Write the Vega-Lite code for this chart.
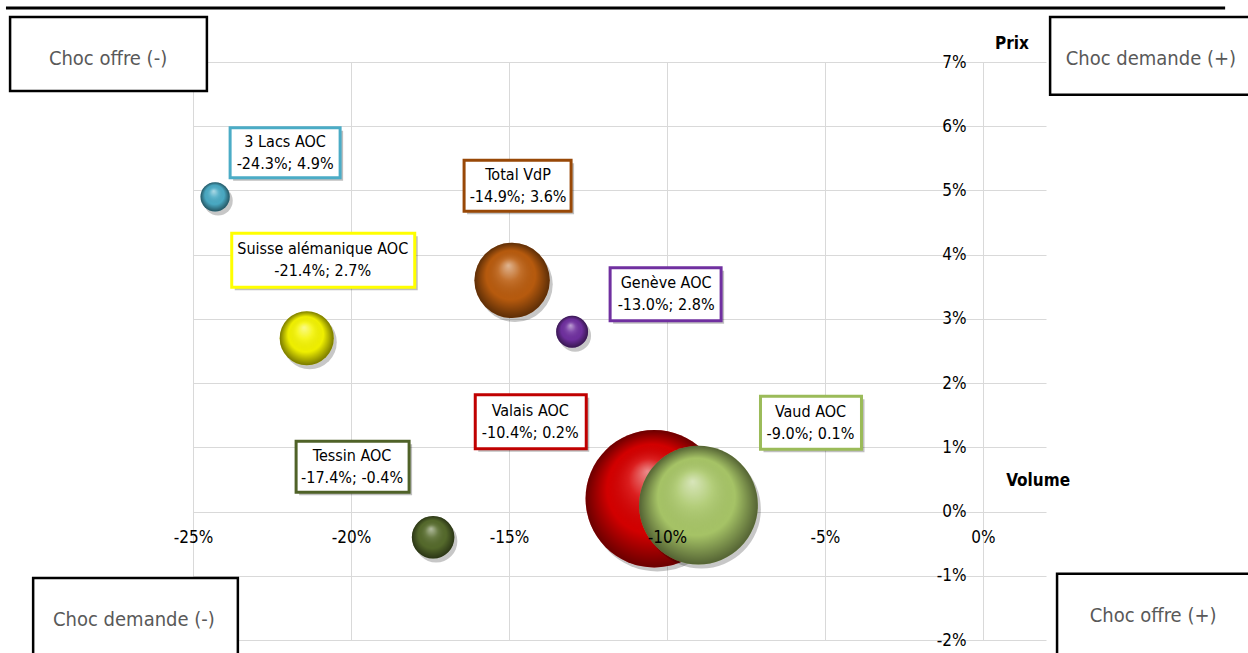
{
  "$schema": "https://vega.github.io/schema/vega-lite/v6.json",
  "width": 853,
  "height": 578,
  "autosize": {"type": "none"},
  "padding": {"left": 193, "top": 62, "right": 202, "bottom": 13},
  "background": "white",
  "config": {
    "view": {"stroke": null},
    "font": "DejaVu Sans Condensed, DejaVu Sans, sans-serif",
    "text": {"font": "DejaVu Sans Condensed, DejaVu Sans, sans-serif"}
  },
  "datasets": {
    "vins": [
      {"nom": "3 Lacs AOC", "vol": -24.3, "prix": 4.9, "poids": 272, "etiquette": "3 Lacs AOC\n-24.3%; 4.9%"},
      {"nom": "Total VdP", "vol": -14.9, "prix": 3.6, "poids": 1806, "etiquette": "Total VdP\n-14.9%; 3.6%"},
      {"nom": "Suisse alémanique AOC", "vol": -21.4, "prix": 2.7, "poids": 930, "etiquette": "Suisse alémanique AOC\n-21.4%; 2.7%"},
      {"nom": "Genève AOC", "vol": -13.0, "prix": 2.8, "poids": 324, "etiquette": "Genève AOC\n-13.0%; 2.8%"},
      {"nom": "Tessin AOC", "vol": -17.4, "prix": -0.4, "poids": 576, "etiquette": "Tessin AOC\n-17.4%; -0.4%"},
      {"nom": "Valais AOC", "vol": -10.4, "prix": 0.2, "poids": 6006, "etiquette": "Valais AOC\n-10.4%; 0.2%"},
      {"nom": "Vaud AOC", "vol": -9.0, "prix": 0.1, "poids": 4489, "etiquette": "Vaud AOC\n-9.0%; 0.1%"}
    ]
  },
  "resolve": {"axis": {"x": "independent"}},
  "layer": [
    {
      "data": {"name": "vins"},
      "encoding": {
        "x": {
          "field": "vol", "type": "quantitative",
          "scale": {"domain": [-25, 2], "nice": false, "zero": false},
          "axis": {
            "title": null, "values": [-25, -20, -15, -10, -5, 0],
            "orient": "bottom", "offset": -129,
            "ticks": false, "tickSize": 0, "domain": false, "labels": false,
            "grid": true, "gridColor": "#d9d9d9", "gridWidth": 1, "zindex": 0
          }
        },
        "y": {
          "field": "prix", "type": "quantitative",
          "scale": {"domain": [-2, 7], "nice": false, "zero": false},
          "axis": {
            "title": null, "values": [-2, -1, 0, 1, 2, 3, 4, 5, 6, 7],
            "labelExpr": "datum.value + '%'", "offset": -790,
            "ticks": false, "tickSize": 0, "domain": false,
            "grid": true, "gridColor": "#d9d9d9", "gridWidth": 1,
            "labelFontSize": 17, "labelColor": "#000", "labelPadding": 17,
            "labelFlush": false, "labelOverlap": false, "zindex": 0,
            "labelFont": "DejaVu Sans Condensed, DejaVu Sans, sans-serif"
          }
        }
      },
      "layer": [
        {
          "transform": [{"filter": "datum.nom !== 'Vaud AOC'"}],
          "layer": [
            {
              "mark": {"type": "point", "shape": "circle", "filled": true, "color": "#000", "opacity": 0.22, "xOffset": 3, "yOffset": 4, "strokeWidth": 0},
              "encoding": {"size": {"field": "poids", "type": "quantitative", "scale": {"domain": [0, 6006], "range": [0, 18870]}, "legend": null}}
            },
            {
              "mark": {"type": "point", "shape": "circle", "filled": true, "opacity": 1, "strokeWidth": 0},
              "encoding": {
                "size": {"field": "poids", "type": "quantitative", "legend": null},
                "color": {"field": "nom", "type": "nominal", "legend": null,
                  "scale": {"domain": ["3 Lacs AOC", "Total VdP", "Suisse alémanique AOC", "Genève AOC", "Tessin AOC", "Valais AOC", "Vaud AOC"],
                            "range": ["#4BACC6", "#BA5C0E", "#F4F400", "#7030A0", "#566B2C", "#D60000", "#A9C768"]}}
              }
            },
            {
              "mark": {"type": "point", "shape": "circle", "filled": true, "opacity": 1, "strokeWidth": 0,
                "color": {"gradient": "radial", "x1": 0.45, "y1": 0.3, "r1": 0, "x2": 0.5, "y2": 0.5, "r2": 0.5,
                  "stops": [
                    {"offset": 0, "color": "rgba(255,255,255,0.55)"},
                    {"offset": 0.3, "color": "rgba(255,255,255,0.12)"},
                    {"offset": 0.65, "color": "rgba(0,0,0,0.02)"},
                    {"offset": 1, "color": "rgba(0,0,0,0.5)"}
                  ]}},
              "encoding": {"size": {"field": "poids", "type": "quantitative", "legend": null}}
            }
          ]
        },
        {
          "transform": [{"filter": "datum.nom === 'Vaud AOC'"}],
          "layer": [
            {
              "mark": {"type": "point", "shape": "circle", "filled": true, "color": "#000", "opacity": 0.22, "xOffset": 3, "yOffset": 4, "strokeWidth": 0},
              "encoding": {"size": {"field": "poids", "type": "quantitative", "legend": null}}
            },
            {
              "mark": {"type": "point", "shape": "circle", "filled": true, "opacity": 1, "strokeWidth": 0},
              "encoding": {
                "size": {"field": "poids", "type": "quantitative", "legend": null},
                "color": {"field": "nom", "type": "nominal", "legend": null}
              }
            },
            {
              "mark": {"type": "point", "shape": "circle", "filled": true, "opacity": 1, "strokeWidth": 0,
                "color": {"gradient": "radial", "x1": 0.45, "y1": 0.3, "r1": 0, "x2": 0.5, "y2": 0.5, "r2": 0.5,
                  "stops": [
                    {"offset": 0, "color": "rgba(255,255,255,0.55)"},
                    {"offset": 0.3, "color": "rgba(255,255,255,0.12)"},
                    {"offset": 0.65, "color": "rgba(0,0,0,0.02)"},
                    {"offset": 1, "color": "rgba(0,0,0,0.5)"}
                  ]}},
              "encoding": {"size": {"field": "poids", "type": "quantitative", "legend": null}}
            }
          ]
        },
        {
          "transform": [{"filter": "datum.nom === '3 Lacs AOC'"}],
          "layer": [
            {"mark": {"type": "rect", "fill": "#000", "opacity": 0.25, "xOffset": 18, "x2Offset": 128, "yOffset": -66, "y2Offset": -16}, "encoding": {"x2": {"field": "vol"}, "y2": {"field": "prix"}}},
            {"mark": {"type": "rect", "fill": "white", "stroke": "#4BACC6", "strokeWidth": 3, "xOffset": 15, "x2Offset": 125, "yOffset": -69, "y2Offset": -19}, "encoding": {"x2": {"field": "vol"}, "y2": {"field": "prix"}}},
            {"mark": {"type": "text", "lineBreak": "\n", "fontSize": 16, "lineHeight": 22, "baseline": "middle", "color": "#000", "xOffset": 70, "yOffset": -55}, "encoding": {"text": {"field": "etiquette"}}}
          ]
        },
        {
          "transform": [{"filter": "datum.nom === 'Total VdP'"}],
          "layer": [
            {"mark": {"type": "rect", "fill": "#000", "opacity": 0.25, "xOffset": -45, "x2Offset": 62, "yOffset": -117, "y2Offset": -66}, "encoding": {"x2": {"field": "vol"}, "y2": {"field": "prix"}}},
            {"mark": {"type": "rect", "fill": "white", "stroke": "#984807", "strokeWidth": 3, "xOffset": -48, "x2Offset": 59, "yOffset": -120, "y2Offset": -69}, "encoding": {"x2": {"field": "vol"}, "y2": {"field": "prix"}}},
            {"mark": {"type": "text", "lineBreak": "\n", "fontSize": 16, "lineHeight": 22, "baseline": "middle", "color": "#000", "xOffset": 6, "yOffset": -105}, "encoding": {"text": {"field": "etiquette"}}}
          ]
        },
        {
          "transform": [{"filter": "datum.nom === 'Suisse alémanique AOC'"}],
          "layer": [
            {"mark": {"type": "rect", "fill": "#000", "opacity": 0.25, "xOffset": -72, "x2Offset": 111, "yOffset": -102, "y2Offset": -48}, "encoding": {"x2": {"field": "vol"}, "y2": {"field": "prix"}}},
            {"mark": {"type": "rect", "fill": "white", "stroke": "#FFFF00", "strokeWidth": 3, "xOffset": -75, "x2Offset": 108, "yOffset": -105, "y2Offset": -51}, "encoding": {"x2": {"field": "vol"}, "y2": {"field": "prix"}}},
            {"mark": {"type": "text", "lineBreak": "\n", "fontSize": 16, "lineHeight": 22, "baseline": "middle", "color": "#000", "xOffset": 16, "yOffset": -89}, "encoding": {"text": {"field": "etiquette"}}}
          ]
        },
        {
          "transform": [{"filter": "datum.nom === 'Genève AOC'"}],
          "layer": [
            {"mark": {"type": "rect", "fill": "#000", "opacity": 0.25, "xOffset": 41, "x2Offset": 152, "yOffset": -61, "y2Offset": -8}, "encoding": {"x2": {"field": "vol"}, "y2": {"field": "prix"}}},
            {"mark": {"type": "rect", "fill": "white", "stroke": "#7030A0", "strokeWidth": 3, "xOffset": 38, "x2Offset": 149, "yOffset": -64, "y2Offset": -11}, "encoding": {"x2": {"field": "vol"}, "y2": {"field": "prix"}}},
            {"mark": {"type": "text", "lineBreak": "\n", "fontSize": 16, "lineHeight": 22, "baseline": "middle", "color": "#000", "xOffset": 94, "yOffset": -49}, "encoding": {"text": {"field": "etiquette"}}}
          ]
        },
        {
          "transform": [{"filter": "datum.nom === 'Valais AOC'"}],
          "layer": [
            {"mark": {"type": "rect", "fill": "#000", "opacity": 0.25, "xOffset": -176, "x2Offset": -65, "yOffset": -101, "y2Offset": -47}, "encoding": {"x2": {"field": "vol"}, "y2": {"field": "prix"}}},
            {"mark": {"type": "rect", "fill": "white", "stroke": "#C00000", "strokeWidth": 3, "xOffset": -179, "x2Offset": -68, "yOffset": -104, "y2Offset": -50}, "encoding": {"x2": {"field": "vol"}, "y2": {"field": "prix"}}},
            {"mark": {"type": "text", "lineBreak": "\n", "fontSize": 16, "lineHeight": 22, "baseline": "middle", "color": "#000", "xOffset": -124, "yOffset": -88}, "encoding": {"text": {"field": "etiquette"}}}
          ]
        },
        {
          "transform": [{"filter": "datum.nom === 'Vaud AOC'"}],
          "layer": [
            {"mark": {"type": "rect", "fill": "#000", "opacity": 0.25, "xOffset": 65, "x2Offset": 166, "yOffset": -106, "y2Offset": -53}, "encoding": {"x2": {"field": "vol"}, "y2": {"field": "prix"}}},
            {"mark": {"type": "rect", "fill": "white", "stroke": "#9BBB59", "strokeWidth": 3, "xOffset": 62, "x2Offset": 163, "yOffset": -109, "y2Offset": -56}, "encoding": {"x2": {"field": "vol"}, "y2": {"field": "prix"}}},
            {"mark": {"type": "text", "lineBreak": "\n", "fontSize": 16, "lineHeight": 22, "baseline": "middle", "color": "#000", "xOffset": 112, "yOffset": -93}, "encoding": {"text": {"field": "etiquette"}}}
          ]
        },
        {
          "transform": [{"filter": "datum.nom === 'Tessin AOC'"}],
          "layer": [
            {"mark": {"type": "rect", "fill": "#000", "opacity": 0.25, "xOffset": -134, "x2Offset": -21, "yOffset": -93, "y2Offset": -42}, "encoding": {"x2": {"field": "vol"}, "y2": {"field": "prix"}}},
            {"mark": {"type": "rect", "fill": "white", "stroke": "#4F6228", "strokeWidth": 3, "xOffset": -137, "x2Offset": -24, "yOffset": -96, "y2Offset": -45}, "encoding": {"x2": {"field": "vol"}, "y2": {"field": "prix"}}},
            {"mark": {"type": "text", "lineBreak": "\n", "fontSize": 16, "lineHeight": 22, "baseline": "middle", "color": "#000", "xOffset": -81, "yOffset": -81}, "encoding": {"text": {"field": "etiquette"}}}
          ]
        },
        {
          "data": {"values": [{"x": -30.92, "x2": 7.67, "y": 7.84}]},
          "mark": {"type": "rule", "color": "#000", "strokeWidth": 3},
          "encoding": {"x": {"field": "x", "type": "quantitative"}, "x2": {"field": "x2"}, "y": {"field": "y", "type": "quantitative"}}
        },
        {
          "data": {"values": [
            {"x": -30.79, "x2": -24.56, "y": 7.70, "y2": 6.55},
            {"x": 2.13, "x2": 8.6, "y": 7.70, "y2": 6.49},
            {"x": -30.06, "x2": -23.58, "y": -1.035, "y2": -2.3},
            {"x": 2.35, "x2": 8.6, "y": -0.97, "y2": -2.3}
          ]},
          "mark": {"type": "rect", "fill": "white", "stroke": "#000", "strokeWidth": 2.5},
          "encoding": {"x": {"field": "x", "type": "quantitative"}, "x2": {"field": "x2"}, "y": {"field": "y", "type": "quantitative"}, "y2": {"field": "y2"}}
        },
        {
          "data": {"values": [{"t": "Choc offre (-)", "x": -27.69, "y": 7.05}, {"t": "Choc demande (+)", "x": 5.32, "y": 7.05}, {"t": "Choc demande (-)", "x": -26.87, "y": -1.69}, {"t": "Choc offre (+)", "x": 5.39, "y": -1.63}]},
          "mark": {"type": "text", "fontSize": 20, "color": "#595959", "baseline": "middle", "align": "center"},
          "encoding": {"x": {"field": "x", "type": "quantitative"}, "y": {"field": "y", "type": "quantitative"}, "text": {"field": "t"}}
        },
        {
          "data": {"values": [{"t": "Prix", "x": 0.92, "y": 7.28}, {"t": "Volume", "x": 1.75, "y": 0.476}]},
          "mark": {"type": "text", "fontSize": 17, "fontWeight": "bold", "color": "#000", "baseline": "middle", "align": "center"},
          "encoding": {"x": {"field": "x", "type": "quantitative"}, "y": {"field": "y", "type": "quantitative"}, "text": {"field": "t"}}
        }
      ]
    },
    {
      "data": {"name": "vins"},
      "mark": {"type": "point", "opacity": 0},
      "encoding": {
        "x": {
          "field": "vol", "type": "quantitative",
          "axis": {
            "title": null, "values": [-25, -20, -15, -10, -5, 0],
            "labelExpr": "datum.value + '%'", "orient": "bottom", "offset": -129,
            "ticks": false, "tickSize": 0, "domain": false, "grid": false,
            "labelFontSize": 17, "labelColor": "#000", "labelPadding": 18,
            "labelFlush": false, "labelOverlap": false, "zindex": 1,
            "labelFont": "DejaVu Sans Condensed, DejaVu Sans, sans-serif"
          }
        },
        "y": {"field": "prix", "type": "quantitative", "axis": {"title": null}}
      }
    }
  ]
}
